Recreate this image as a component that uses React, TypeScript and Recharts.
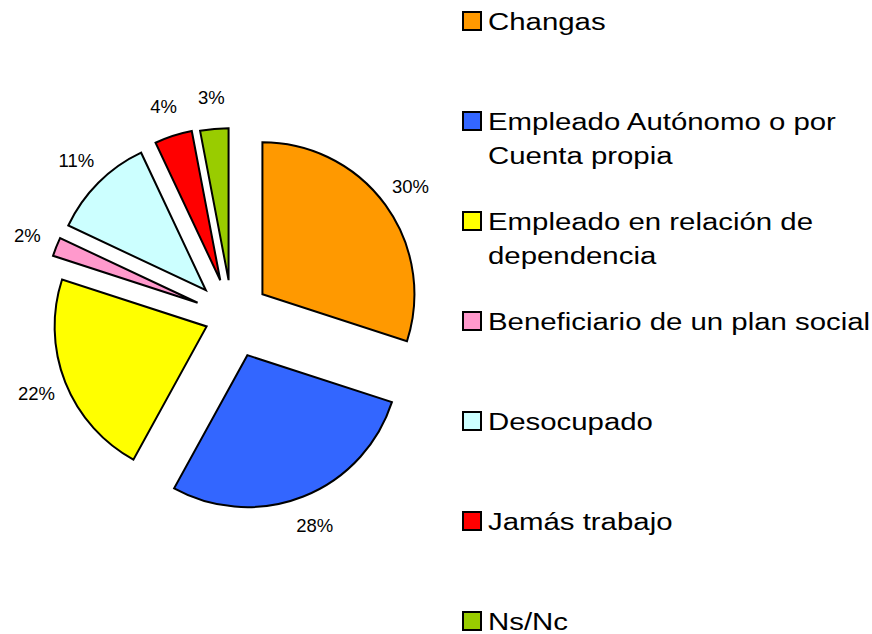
import React from 'react';
import { PieChart, Pie, Cell, Legend } from 'recharts';

const categories = [
  'Changas',
  'Empleado Autónomo o por Cuenta propia',
  'Empleado en relación de dependencia',
  'Beneficiario de un plan social',
  'Desocupado',
  'Jamás trabajo',
  'Ns/Nc',
];
const legendLines = [
  ['Changas'],
  ['Empleado Autónomo o por', 'Cuenta propia'],
  ['Empleado en relación de', 'dependencia'],
  ['Beneficiario de un plan social'],
  ['Desocupado'],
  ['Jamás trabajo'],
  ['Ns/Nc'],
];
const values = [30, 28, 22, 2, 11, 4, 3];
const colors = ['#FF9900', '#3366FF', '#FFFF00', '#FF99CC', '#CCFFFF', '#FF0000', '#99CC00'];
// how far each slice is pulled out from the pie centre (px)
const explode = [37.6, 41.7, 27.3, 37, 37, 38, 36.4];

const W = 872;
const H = 634;
const CX = 232;
const CY = 316.4;
const R = 152;
const FONT = '"Liberation Sans", Arial, sans-serif';

const data = categories.map((name, i) => ({ name, value: values[i] }));
const total = values.reduce((a, b) => a + b, 0);

const RAD = Math.PI / 180;

function sliceCenter(i: number) {
  const before = values.slice(0, i).reduce((a, b) => a + b, 0);
  const mid = ((before + values[i] / 2) / total) * 360; // clockwise from top
  return {
    x: CX + explode[i] * Math.sin(mid * RAD),
    y: CY - explode[i] * Math.cos(mid * RAD),
  };
}

const makeLabel = (idx: number) => (props: any) => {
  if (props.index !== idx) return null;
  const { cx, cy, midAngle, outerRadius, value } = props;
  const r = outerRadius + 31;
  const x = cx + r * Math.cos(-midAngle * RAD);
  const y = cy + r * Math.sin(-midAngle * RAD);
  const pct = Math.round((value / total) * 100);
  return (
    <text
      x={x}
      y={y}
      fill="#000"
      fontSize={18.5}
      fontFamily={FONT}
      textAnchor="middle"
      dominantBaseline="central"
    >
      {`${pct}%`}
    </text>
  );
};

const renderLegend = () => (
  <div style={{ position: 'relative', width: 411, height: H, fontFamily: FONT }}>
    {legendLines.map((lines, i) => {
      const center = 21.3 + i * 100;
      return (
        <div key={categories[i]}>
          <div
            style={{
              position: 'absolute',
              left: 1,
              top: center - 10,
              width: 16,
              height: 16,
              background: colors[i],
              border: '2px solid #000',
            }}
          />
          <div
            style={{
              position: 'absolute',
              left: 27,
              top: center - 16.7,
              fontSize: 23.5,
              lineHeight: '34px',
              color: '#000',
              whiteSpace: 'nowrap',
              transform: 'scaleX(1.25)',
              transformOrigin: '0 0',
            }}
          >
            {lines.map((l) => (
              <div key={l}>{l}</div>
            ))}
          </div>
        </div>
      );
    })}
  </div>
);

export default function App() {
  return (
    <div style={{ position: 'absolute', left: 0, top: 0, width: W, height: H, background: '#fff' }}>
      <PieChart width={W} height={H} margin={{ top: 0, right: 0, bottom: 0, left: 0 }}>
        {values.map((_, idx) => {
          const c = sliceCenter(idx);
          return (
            <Pie
              key={categories[idx]}
              data={data}
              dataKey="value"
              nameKey="name"
              cx={c.x}
              cy={c.y}
              outerRadius={R}
              innerRadius={0}
              startAngle={90}
              endAngle={-270}
              isAnimationActive={false}
              label={makeLabel(idx)}
              labelLine={false}
              legendType="none"
            >
              {data.map((d, j) => (
                <Cell
                  key={d.name}
                  fill={j === idx ? colors[j] : 'none'}
                  stroke={j === idx ? '#000' : 'none'}
                  strokeWidth={2}
                />
              ))}
            </Pie>
          );
        })}
        <Legend
          content={renderLegend}
          layout="vertical"
          align="right"
          verticalAlign="top"
          wrapperStyle={{ position: 'absolute', left: 461, top: 0, width: 411, height: H }}
        />
      </PieChart>
    </div>
  );
}
